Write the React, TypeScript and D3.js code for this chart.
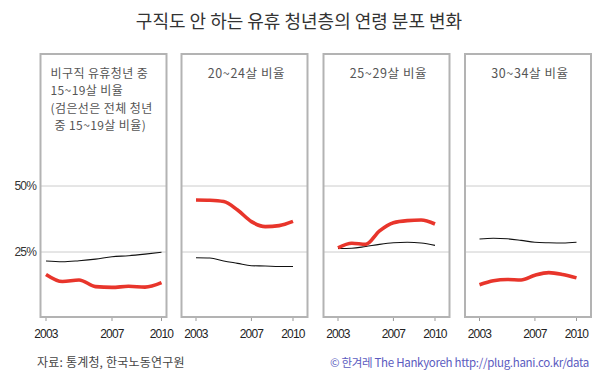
import React from "react";
import * as d3 from "d3";

const years = [2003, 2004, 2005, 2006, 2007, 2008, 2009, 2010];
const tickYears = [2003, 2007, 2010];
const yTicks = [25, 50];

const panelTitles = [
  ["비구직 유휴청년 중", "15~19살 비율", "(검은선은 전체 청년", "중 15~19살 비율)"],
  ["20~24살 비율"],
  ["25~29살 비율"],
  ["30~34살 비율"],
];

// red: share among non-job-seeking idle youth
const idle15_19 = [16.5, 13.8, 14.4, 11.9, 11.6, 12.0, 11.7, 13.4];
const idle20_24 = [44.7, 44.6, 44.1, 40.9, 36.5, 34.6, 35.0, 36.6];
const idle25_29 = [26.6, 28.3, 27.9, 33.0, 36.1, 36.9, 37.1, 35.6];
const idle30_34 = [12.6, 14.1, 14.6, 14.4, 16.2, 17.2, 16.5, 15.2];

// black: share among all youth
const all15_19 = [21.6, 21.3, 21.7, 22.3, 23.2, 23.6, 24.2, 24.9];
const all20_24 = [22.8, 22.7, 21.6, 20.7, 19.8, 19.7, 19.5, 19.5];
const all25_29 = [26.3, 26.4, 27.1, 27.9, 28.5, 28.7, 28.4, 27.5];
const all30_34 = [29.9, 30.2, 30.0, 29.4, 28.7, 28.5, 28.4, 28.7];

const redSeries = [idle15_19, idle20_24, idle25_29, idle30_34];
const blackSeries = [all15_19, all20_24, all25_29, all30_34];

const title = "구직도 안 하는 유휴 청년층의 연령 분포 변화";
const source = "자료: 통계청, 한국노동연구원";
const credit = "© 한겨레 The Hankyoreh http://plug.hani.co.kr/data";

const KR = "'Noto Sans CJK KR', 'Noto Sans', sans-serif";
const NUM = "'Liberation Sans Narrow', 'Liberation Sans', Arial, sans-serif";

export default function App() {
  const W = 600;
  const H = 375;
  const panelLefts = [40.5, 181.5, 323.5, 465];
  const panelW = 126;
  const top = 54;
  const bottom = 317;
  const y = d3.scaleLinear().domain([0, 100]).range([318, 54]);

  const panels = panelLefts.map((left, i) => {
    const pad = i === 0 ? [5.5, 121] : [14.5, 111.5];
    const x = d3
      .scaleLinear()
      .domain([2003, 2010])
      .range([left + pad[0], left + pad[1]]);
    const line = d3
      .line<number>()
      .x((_, j) => x(years[j]))
      .y((v) => y(v))
      .curve(d3.curveMonotoneX);
    return { left, x, line, i };
  });

  return (
    <svg
      width={W}
      height={H}
      style={{ position: "absolute", left: 0, top: 0, background: "#fff" }}
    >
      <rect x={0} y={0} width={W} height={H} fill="#fff" />
      <text
        x={299}
        y={28}
        textAnchor="middle"
        fontFamily={KR}
        fontSize={18}
        letterSpacing={0}
        fill="#333"
      >
        {title}
      </text>

      {yTicks.map((t) => (
        <text
          key={t}
          x={36}
          y={y(t) + 4}
          textAnchor="end"
          fontFamily={NUM}
          fontSize={12}
          letterSpacing={-0.8}
          fill="#333"
        >
          {t}%
        </text>
      ))}

      {panels.map(({ left, x, line, i }) => (
        <g key={i}>
          {yTicks.map((t) => (
            <line
              key={t}
              x1={left}
              x2={left + panelW}
              y1={y(t)}
              y2={y(t)}
              stroke="#cccccc"
              strokeWidth={1}
            />
          ))}
          <rect
            x={left}
            y={top}
            width={panelW}
            height={bottom - top}
            fill="none"
            stroke="#b3b3b3"
            strokeWidth={2}
          />
          {tickYears.map((t) => (
            <g key={t}>
              <line
                x1={x(t)}
                x2={x(t)}
                y1={bottom + 1}
                y2={bottom + 4}
                stroke="#999"
                strokeWidth={1}
              />
              <text
                x={x(t)}
                y={338}
                textAnchor="middle"
                fontFamily={NUM}
                fontSize={12}
                letterSpacing={-0.8}
                fill="#222"
              >
                {t}
              </text>
            </g>
          ))}
          <path
            d={line(blackSeries[i]) || ""}
            fill="none"
            stroke="#111"
            strokeWidth={1.1}
          />
          <path
            d={line(redSeries[i]) || ""}
            fill="none"
            stroke="#e8352b"
            strokeWidth={3.6}
            strokeLinejoin="round"
          />
          {panelTitles[i].map((s, k) =>
            i === 0 ? (
              <text
                key={k}
                x={left + 10 + (k === 3 ? 4 : 0)}
                y={77.5 + k * 17.5}
                fontFamily={KR}
                fontSize={12}
                letterSpacing={0.4}
                fill="#555"
              >
                {s}
              </text>
            ) : (
              <text
                key={k}
                x={left + panelW / 2 + 2}
                y={77.5}
                textAnchor="middle"
                fontFamily={KR}
                fontSize={12.5}
                letterSpacing={0.6}
                fill="#555"
              >
                {s}
              </text>
            )
          )}
        </g>
      ))}

      <text
        x={37}
        y={367}
        fontFamily={KR}
        fontSize={12}
        letterSpacing={0.2}
        fill="#444"
      >
        {source}
      </text>
      <text
        x={589}
        y={367}
        textAnchor="end"
        fontFamily={KR}
        fontSize={11.5}
        letterSpacing={-0.3}
        fill="#5b5bc0"
      >
        {credit}
      </text>
    </svg>
  );
}
